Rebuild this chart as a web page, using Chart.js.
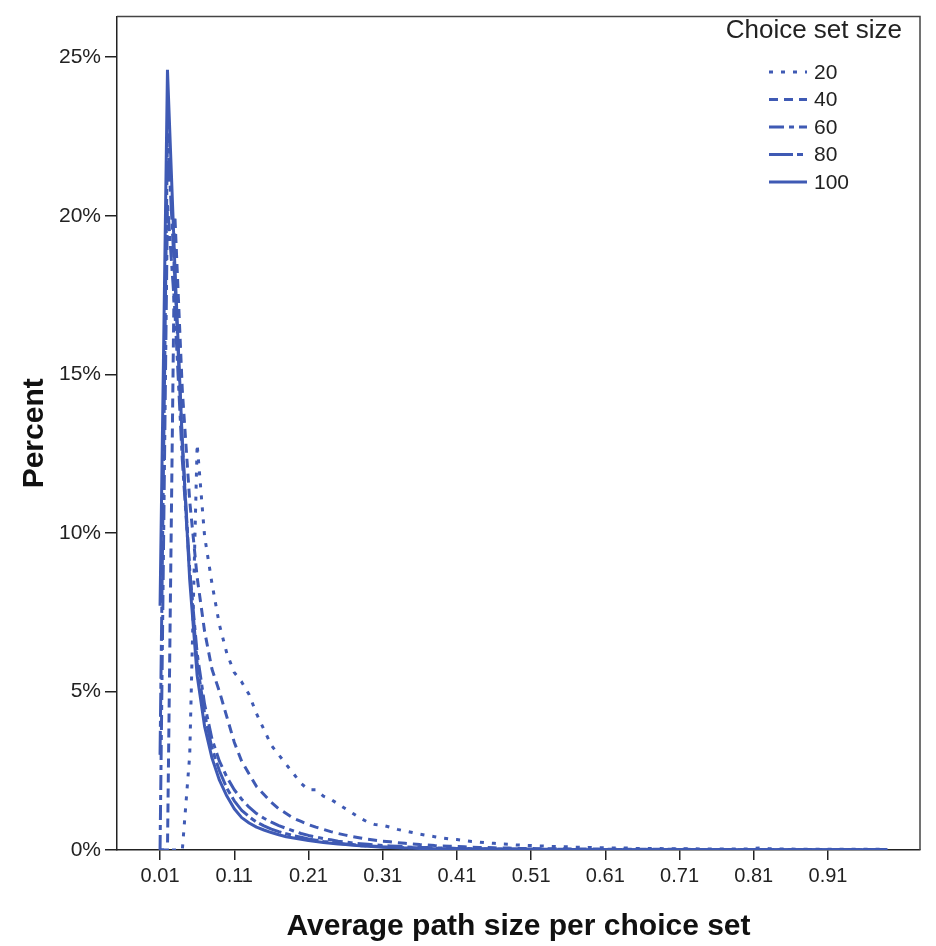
<!DOCTYPE html>
<html>
<head>
<meta charset="utf-8">
<script src="https://cdn.jsdelivr.net/npm/chart.js@4"></script>
<style>
  html, body { margin: 0; padding: 0; background: #fff; }
  #wrap { width: 936px; height: 946px; }
</style>
</head>
<body>
<div id="wrap"><canvas id="chart" width="936" height="946"></canvas></div>
<script>
// average path size bins (x categories)
var pathSize = [
  0.01, 0.02, 0.03, 0.04, 0.05, 0.06, 0.07, 0.08, 0.09, 0.10,
  0.11, 0.12, 0.13, 0.14, 0.15, 0.16, 0.17, 0.18, 0.19, 0.20,
  0.21, 0.22, 0.23, 0.24, 0.25, 0.26, 0.27, 0.28, 0.29, 0.30,
  0.31, 0.32, 0.33, 0.34, 0.35, 0.36, 0.37, 0.38, 0.39, 0.40,
  0.41, 0.42, 0.43, 0.44, 0.45, 0.46, 0.47, 0.48, 0.49, 0.50,
  0.51, 0.52, 0.53, 0.54, 0.55, 0.56, 0.57, 0.58, 0.59, 0.60,
  0.61, 0.62, 0.63, 0.64, 0.65, 0.66, 0.67, 0.68, 0.69, 0.70,
  0.71, 0.72, 0.73, 0.74, 0.75, 0.76, 0.77, 0.78, 0.79, 0.80,
  0.81, 0.82, 0.83, 0.84, 0.85, 0.86, 0.87, 0.88, 0.89, 0.90,
  0.91, 0.92, 0.93, 0.94, 0.95, 0.96, 0.97, 0.98, 0.99
];

// percent per bin, one array per choice set size
var size20 = [
  0, 0, 0, 0, 3.0, 12.8, 9.9, 8.4, 7.1, 6.2,
  5.6, 5.3, 4.9, 4.3, 3.8, 3.3, 3.0, 2.7, 2.4, 2.1,
  1.9, 1.9, 1.7, 1.6, 1.45, 1.3, 1.15, 1.0, 0.88, 0.8,
  0.78, 0.72, 0.65, 0.6, 0.55, 0.5, 0.46, 0.42, 0.38, 0.35,
  0.33, 0.3, 0.27, 0.25, 0.23, 0.21, 0.19, 0.18, 0.16, 0.15,
  0.14, 0.13, 0.12, 0.11, 0.1, 0.1, 0.09, 0.08, 0.08, 0.07,
  0.07, 0.06, 0.06, 0.06, 0.05, 0.05, 0.05, 0.05, 0.04, 0.04,
  0.04, 0.04, 0.04, 0.03, 0.03, 0.03, 0.03, 0.03, 0.03, 0.03,
  0.05, 0.07, 0.04, 0.03, 0.03, 0.03, 0.02, 0.02, 0.02, 0.02,
  0.02, 0.02, 0.02, 0.02, 0.02, 0.02, 0.02, 0.02, 0.02
];
var size40 = [
  0, 0, 20.0, 14.5, 11.0, 8.6, 6.9, 5.7, 5.0, 4.2,
  3.4, 2.8, 2.4, 2.0, 1.75, 1.5, 1.3, 1.15, 1.0, 0.9,
  0.8, 0.72, 0.65, 0.58, 0.52, 0.47, 0.42, 0.38, 0.34, 0.31,
  0.28, 0.26, 0.23, 0.21, 0.19, 0.17, 0.16, 0.14, 0.13, 0.12,
  0.11, 0.1, 0.09, 0.08, 0.08, 0.07, 0.06, 0.06, 0.05, 0.05,
  0.05, 0.04, 0.04, 0.04, 0.04, 0.03, 0.03, 0.03, 0.03, 0.03,
  0.02, 0.02, 0.02, 0.02, 0.02, 0.02, 0.02, 0.02, 0.02, 0.02,
  0.02, 0.02, 0.01, 0.01, 0.01, 0.01, 0.01, 0.01, 0.01, 0.01,
  0.01, 0.01, 0.01, 0.01, 0.01, 0.01, 0.01, 0.01, 0.01, 0.01,
  0.01, 0.01, 0.01, 0.01, 0.01, 0.01, 0.01, 0.01, 0.01
];
var size60 = [
  0, 20.4, 17.0, 12.3, 8.8, 6.2, 4.6, 3.5, 2.8, 2.3,
  1.9, 1.6, 1.35, 1.15, 1.0, 0.88, 0.77, 0.68, 0.6, 0.52,
  0.46, 0.41, 0.36, 0.32, 0.28, 0.25, 0.22, 0.2, 0.18, 0.16,
  0.14, 0.13, 0.12, 0.1, 0.09, 0.08, 0.08, 0.07, 0.06, 0.06,
  0.05, 0.05, 0.04, 0.04, 0.04, 0.03, 0.03, 0.03, 0.03, 0.02,
  0.02, 0.02, 0.02, 0.02, 0.02, 0.02, 0.01, 0.01, 0.01, 0.01,
  0.01, 0.01, 0.01, 0.01, 0.01, 0.01, 0.01, 0.01, 0.01, 0.01,
  0.01, 0.01, 0.01, 0.01, 0.01, 0.01, 0.01, 0.01, 0.01, 0.01,
  0.01, 0.01, 0.01, 0.01, 0.01, 0.01, 0.01, 0.01, 0.01, 0.01,
  0.01, 0.01, 0.01, 0.01, 0.01, 0.01, 0.01, 0.01, 0.01
];
var size80 = [
  3.0, 22.6, 18.0, 12.8, 8.8, 5.9, 4.3, 3.2, 2.5, 1.95,
  1.55, 1.25, 1.05, 0.88, 0.76, 0.66, 0.58, 0.51, 0.45, 0.4,
  0.35, 0.31, 0.27, 0.24, 0.21, 0.19, 0.17, 0.15, 0.13, 0.12,
  0.1, 0.09, 0.08, 0.07, 0.07, 0.06, 0.05, 0.05, 0.04, 0.04,
  0.04, 0.03, 0.03, 0.03, 0.03, 0.02, 0.02, 0.02, 0.02, 0.02,
  0.02, 0.02, 0.01, 0.01, 0.01, 0.01, 0.01, 0.01, 0.01, 0.01,
  0.01, 0.01, 0.01, 0.01, 0.01, 0.01, 0.01, 0.01, 0.01, 0.01,
  0.01, 0.01, 0.01, 0.01, 0.01, 0.01, 0.01, 0.01, 0.01, 0.01,
  0.01, 0.01, 0.01, 0.01, 0.01, 0.01, 0.01, 0.01, 0.01, 0.01,
  0.01, 0.01, 0.01, 0.01, 0.01, 0.01, 0.01, 0.01, 0.01
];
var size100 = [
  7.7, 24.6, 18.4, 12.9, 8.5, 5.5, 3.9, 2.9, 2.2, 1.7,
  1.3, 1.02, 0.85, 0.72, 0.63, 0.55, 0.48, 0.42, 0.38, 0.34,
  0.3, 0.27, 0.24, 0.21, 0.19, 0.17, 0.15, 0.13, 0.12, 0.1,
  0.09, 0.08, 0.07, 0.06, 0.06, 0.05, 0.05, 0.04, 0.04, 0.04,
  0.03, 0.03, 0.03, 0.03, 0.02, 0.02, 0.02, 0.02, 0.02, 0.02,
  0.02, 0.01, 0.01, 0.01, 0.01, 0.01, 0.01, 0.01, 0.01, 0.01,
  0.01, 0.01, 0.01, 0.01, 0.01, 0.01, 0.01, 0.01, 0.01, 0.01,
  0.01, 0.01, 0.01, 0.01, 0.01, 0.01, 0.01, 0.01, 0.01, 0.01,
  0.01, 0.01, 0.01, 0.01, 0.01, 0.01, 0.01, 0.01, 0.01, 0.01,
  0.01, 0.01, 0.01, 0.01, 0.01, 0.01, 0.01, 0.01, 0.01
];

var setLabels = ['20', '40', '60', '80', '100'];
var xTicks = [0.01, 0.11, 0.21, 0.31, 0.41, 0.51, 0.61, 0.71, 0.81, 0.91];
var yTicks = [0, 5, 10, 15, 20, 25];

var lineColor = '#3f5ab4';
var dashes = [[4, 8], [9, 6], [15, 5, 5, 5], [24, 4, 6, 4], []];
var series = [size20, size40, size60, size80, size100];

function toPoints(values) {
    return values.map(function(v, i) { return { x: pathSize[i], y: v }; });
}

var datasets = series.map(function(values, i) {
    return {
        label: setLabels[i],
        data: toPoints(values),
        borderColor: lineColor,
        borderWidth: 3,
        borderDash: dashes[i],
        borderCapStyle: 'butt',
        borderJoinStyle: 'bevel',
        pointRadius: 0,
        fill: false,
        tension: 0
    };
});

// top + right edges of the plot frame
var framePlugin = {
    id: 'frame',
    beforeDatasetsDraw: function(chart) {
        var a = chart.chartArea, ctx = chart.ctx;
        ctx.save();
        ctx.strokeStyle = '#444';
        ctx.lineWidth = 1.5;
        ctx.beginPath();
        ctx.moveTo(a.left, a.top);
        ctx.lineTo(a.right, a.top);
        ctx.lineTo(a.right, a.bottom);
        ctx.stroke();
        ctx.restore();
    }
};

// legend drawn inside the plot, top right
var legendPlugin = {
    id: 'insideLegend',
    afterDatasetsDraw: function(chart) {
        var ctx = chart.ctx;
        ctx.save();
        ctx.fillStyle = '#222';
        ctx.font = '26px "Liberation Sans", Arial, sans-serif';
        ctx.textAlign = 'right';
        ctx.textBaseline = 'middle';
        ctx.fillText('Choice set size', 902, 31);
        ctx.font = '21px "Liberation Sans", Arial, sans-serif';
        ctx.textAlign = 'left';
        setLabels.forEach(function(lab, i) {
            var y = 72 + i * 27.5;
            ctx.strokeStyle = lineColor;
            ctx.lineWidth = 3;
            ctx.lineCap = 'butt';
            ctx.setLineDash(dashes[i]);
            ctx.beginPath();
            ctx.moveTo(769, y);
            ctx.lineTo(807, y);
            ctx.stroke();
            ctx.setLineDash([]);
            ctx.fillText(lab, 814, y + 1);
        });
        ctx.restore();
    }
};

var ctx = document.getElementById('chart').getContext('2d');
var chart = new Chart(ctx, {
    type: 'line',
    data: { datasets: datasets },
    plugins: [framePlugin, legendPlugin],
    options: {
        responsive: false,
        animation: false,
        devicePixelRatio: 1,
        layout: { padding: { top: 10, right: 16, left: 0, bottom: 0 } },
        plugins: { legend: { display: false }, tooltip: { enabled: false } },
        scales: {
            x: {
                type: 'linear',
                min: -0.048,
                max: 1.034,
                afterBuildTicks: function(s) {
                    s.ticks = xTicks.map(function(v) { return { value: v }; });
                },
                afterFit: function(s) { s.height = 96; },
                ticks: {
                    autoSkip: false,
                    maxRotation: 0,
                    padding: 4,
                    color: '#222',
                    font: { size: 20, family: '"Liberation Sans", Arial, sans-serif' },
                    callback: function(v) { return Number(v).toFixed(2); }
                },
                grid: { drawOnChartArea: false, tickLength: 10, color: '#222', lineWidth: 1.5 },
                border: { color: '#222', width: 1.5 },
                title: {
                    display: true,
                    text: 'Average path size per choice set',
                    color: '#111',
                    font: { size: 30, weight: 'bold', family: '"Liberation Sans", Arial, sans-serif' },
                    padding: { top: 0, bottom: 1 }
                }
            },
            y: {
                min: 0,
                max: 26.28,
                afterBuildTicks: function(s) {
                    s.ticks = yTicks.map(function(v) { return { value: v }; });
                },
                afterFit: function(s) { s.width = 117; },
                ticks: {
                    padding: 4,
                    color: '#222',
                    font: { size: 21, family: '"Liberation Sans", Arial, sans-serif' },
                    callback: function(v) { return v + '%'; }
                },
                grid: { drawOnChartArea: false, tickLength: 12, color: '#222', lineWidth: 1.5 },
                border: { color: '#222', width: 1.5 },
                title: {
                    display: true,
                    text: 'Percent',
                    color: '#111',
                    font: { size: 30, weight: 'bold', family: '"Liberation Sans", Arial, sans-serif' },
                    padding: { top: 17, bottom: 0 }
                }
            }
        }
    }
});
</script>
</body>
</html>
